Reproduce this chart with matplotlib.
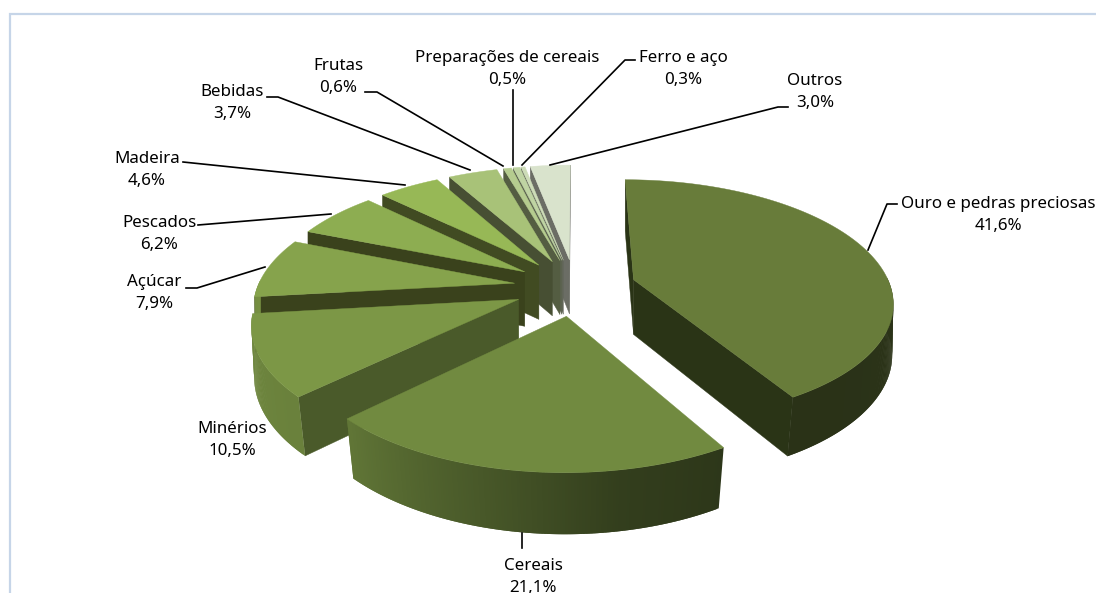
import numpy as np
from matplotlib import pyplot as plt
from matplotlib.colors import to_rgb
from matplotlib.patches import Polygon

# dados do grafico
categorias = ['Ouro e pedras preciosas', 'Cereais', 'Minérios', 'Açúcar', 'Pescados', 'Madeira',
              'Bebidas', 'Frutas', 'Preparações de cereais', 'Ferro e aço', 'Outros']
valores = [41.6, 21.1, 10.5, 7.9, 6.2, 4.6, 3.7, 0.6, 0.5, 0.3, 3.0]
rotulos = ['41,6%', '21,1%', '10,5%', '7,9%', '6,2%', '4,6%', '3,7%', '0,6%', '0,5%', '0,3%', '3,0%']

cores_topo = ['#687c3a', '#718a40', '#7c9746', '#86a34c', '#8dad51', '#97b856',
              '#a8c278', '#b5cc8f', '#bfd4a3', '#cddcb8', '#d9e3cc']
cores_lado = ['#2a3416', '#2a3416', '#4a5a2a', '#3a421c', '#3a421c', '#414b22',
              '#474f33', '#545d42', '#5c6350', '#62665a', '#6b6d65']

# posicao do texto (centro x, centro y do bloco) e linha de chamada, em pixels
pos_texto = [(998, 215), (533, 577), (232, 440), (154, 293), (159, 234), (147, 170),
             (232, 103), (338, 77), (507, 69), (683, 69), (815, 92)]
chamadas = [[(897, 204), (887, 204), (868, 250)], [(522, 533), (522, 548)], None,
            [(186, 288), (197, 288), (265, 267)], [(198, 225), (331, 214)],
            [(183, 162), (405, 185)], [(267, 97), (278, 97), (470, 170)],
            [(365, 92), (377, 92), (503, 166)], [(513, 90), (513, 165)],
            [(635, 60), (625, 60), (522, 165)], [(788, 107), (778, 107), (550, 165)]]

# projecao perspectiva
CX, CY = 575, 287
RX, KY, P = 257, 119, 0.168
EXPLODE = 62 / 260


def projeta(X, Y, base=False):
    s = 1 / (1 + P * Y)
    x = CX + RX * X * s
    y = CY - KY * Y * s
    if base:
        # a base fica um pouco mais estreita, mais na frente
        x = CX + (x - CX) * (1 + 0.03 * np.minimum(Y, 0))
        y = y + 55 + 25 * (s - 1)
    return x, y


def sombra(cor, f):
    return tuple(np.array(to_rgb(cor)) * f)


def fator_lado(t):
    return np.interp(t, [90, 150, 170, 190, 225, 264], [.42, .40, .45, .60, .85, .90])


fig = plt.figure(figsize=(10.96, 5.93), dpi=100)
ax = fig.add_axes([0, 0, 1, 1])
ax.set_xlim(0, 1096)
ax.set_ylim(593, 0)
ax.axis('off')

# moldura
ax.plot([9.5, 9.5, 1096], [593, 13.5, 13.5], color='#c6d5e8', lw=1.6, solid_joinstyle='miter')

total = sum(valores)
fim = np.cumsum(valores) / total * 360
ini = np.concatenate([[0], fim[:-1]])

# ordem de desenho: de tras para a frente
ordem = [0] + list(range(len(valores) - 1, 0, -1))
for i in ordem:
    t0, t1 = ini[i], fim[i]
    meio = np.radians((t0 + t1) / 2)
    ox, oy = EXPLODE * np.sin(meio), EXPLODE * np.cos(meio)
    ts = np.linspace(t0, t1, max(int(t1 - t0) * 2, 4))
    Xs = ox + np.sin(np.radians(ts))
    Ys = oy + np.cos(np.radians(ts))

    # paredes radiais: so as que estao viradas para a frente
    for tb, sinal in ((t0, 1), (t1, -1)):
        Xb, Yb = ox + np.sin(np.radians(tb)), oy + np.cos(np.radians(tb))
        quad = [projeta(ox, oy), projeta(Xb, Yb), projeta(Xb, Yb, True), projeta(ox, oy, True)]
        q = np.array(quad)
        area = 0.5 * np.sum(q[:, 0] * np.roll(q[:, 1], -1) - np.roll(q[:, 0], -1) * q[:, 1])
        if area * sinal < 0:
            ax.add_patch(Polygon(quad, closed=True, fc=cores_lado[i], ec=cores_lado[i], lw=0.3))

    # parede externa em fatias, para o degrade (cada fatia cobre a proxima, sem emendas)
    for k in range(len(ts) - 1):
        tm = (ts[k] + ts[k + 1]) / 2
        if np.cos(np.radians(tm)) > 0.02:
            continue
        cor = sombra(cores_topo[i], fator_lado(tm))
        k2 = min(k + 2, len(ts) - 1)
        quad = [projeta(Xs[k], Ys[k]), projeta(Xs[k2], Ys[k2]),
                projeta(Xs[k2], Ys[k2], True), projeta(Xs[k], Ys[k], True)]
        ax.add_patch(Polygon(quad, closed=True, fc=cor, ec='none'))

    # topo
    x_t, y_t = projeta(Xs, Ys)
    ap_x, ap_y = projeta(ox, oy)
    topo = [(ap_x, ap_y)] + list(zip(x_t, y_t))
    ax.add_patch(Polygon(topo, closed=True, fc=cores_topo[i], ec=cores_topo[i], lw=0.3))

# rotulos
for i, nome in enumerate(categorias):
    x, y = pos_texto[i]
    ax.text(x, y, nome + '\n' + rotulos[i], ha='center', va='center', fontsize=12.2,
            family='Noto Sans', linespacing=1.5, color='black')
    if chamadas[i]:
        px, py = zip(*chamadas[i])
        ax.plot(px, py, color='black', lw=1.2)

plt.savefig('out.png', dpi=100)
